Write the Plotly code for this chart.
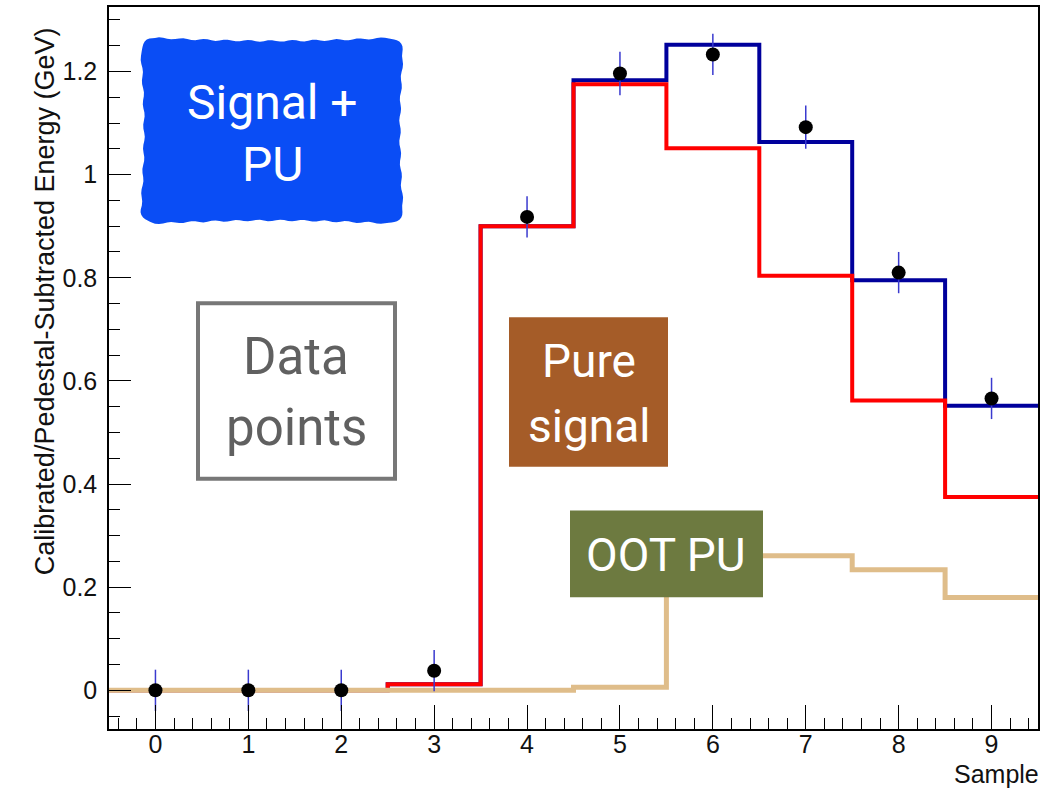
import math
import plotly.graph_objects as go

# ---- data -------------------------------------------------------------
samples = [0, 1, 2, 3, 4, 5, 6, 7, 8, 9]
bin_edges = [-0.5, 0.5, 1.5, 2.5, 3.5, 4.5, 5.5, 6.5, 7.5, 8.5, 9.5]

data_values = [0.0, 0.0, 0.0, 0.038, 0.918, 1.196, 1.233, 1.092, 0.810, 0.566]
data_errors = [0.04, 0.04, 0.04, 0.04, 0.04, 0.042, 0.04, 0.042, 0.04, 0.04]

signal_plus_pu = [0.0, 0.0, 0.0, 0.012, 0.900, 1.183, 1.252, 1.063, 0.795, 0.552]
pure_signal = [0.0, 0.0, 0.0, 0.012, 0.900, 1.175, 1.051, 0.804, 0.562, 0.375]
oot_pu = [0.0, 0.0, 0.0, 0.0, 0.0, 0.006, 0.200, 0.261, 0.234, 0.180]

x_ticks = [0, 1, 2, 3, 4, 5, 6, 7, 8, 9]
y_ticks = [0, 0.2, 0.4, 0.6, 0.8, 1.0, 1.2]
y_tick_text = ["0", "0.2", "0.4", "0.6", "0.8", "1", "1.2"]

# ---- geometry -----------------------------------------------------------
W, H = 1045, 794
ML, MR, MT, MB = 109, 7, 5, 65
X_RANGE = [-0.5, 9.5]
Y_RANGE = [-0.075, 1.325]
PW, PH = W - ML - MR, H - MT - MB


def to_data(px, py):
    """Convert page pixel coordinates to axis coordinates."""
    xd = X_RANGE[0] + (px - ML) / PW * (X_RANGE[1] - X_RANGE[0])
    yd = Y_RANGE[1] - (py - MT) / PH * (Y_RANGE[1] - Y_RANGE[0])
    return xd, yd


def rect_path(x0, y0, x1, y1):
    a = to_data(x0, y0)
    b = to_data(x1, y1)
    return dict(type="rect", xref="x", yref="y", x0=a[0], y0=b[1], x1=b[0], y1=a[1])


def wavy_box_path(x0, y0, x1, y1, r=14, amp=0.8, wl=22.0, bow=3.0):
    """Rounded box outline with a hand-drawn, slightly wobbly edge."""
    pts = []

    def add_line(ax, ay, bx, by, nx, ny):
        n = max(2, int(math.hypot(bx - ax, by - ay) / 4))
        for i in range(n):
            t = i / n
            pts.append((ax + (bx - ax) * t, ay + (by - ay) * t, nx, ny,
                        -bow * math.sin(math.pi * t)))

    def add_arc(cx, cy, a0, a1):
        n = 8
        for i in range(n):
            a = a0 + (a1 - a0) * i / n
            pts.append((cx + r * math.cos(a), cy + r * math.sin(a),
                        math.cos(a), math.sin(a), 0.0))

    add_line(x0 + r, y0, x1 - r, y0, 0, -1)
    add_arc(x1 - r, y0 + r, -math.pi / 2, 0)
    add_line(x1, y0 + r, x1, y1 - r, 1, 0)
    add_arc(x1 - r, y1 - r, 0, math.pi / 2)
    add_line(x1 - r, y1, x0 + r, y1, 0, 1)
    add_arc(x0 + r, y1 - r, math.pi / 2, math.pi)
    add_line(x0, y1 - r, x0, y0 + r, -1, 0)
    add_arc(x0 + r, y0 + r, math.pi, 1.5 * math.pi)

    s = 0.0
    out = []
    prev = None
    for (px, py, nx, ny, b) in pts:
        if prev is not None:
            s += math.hypot(px - prev[0], py - prev[1])
        prev = (px, py)
        off = amp * math.sin(2 * math.pi * s / wl) + b
        xd, yd = to_data(px + nx * off, py + ny * off)
        out.append(f"{xd:.5f},{yd:.5f}")
    return "M " + " L ".join(out) + " Z"


def steps(values):
    return bin_edges, values + [values[-1]]


fig = go.Figure()

# histograms drawn as steps
sx, sy = steps(signal_plus_pu)
fig.add_trace(go.Scatter(x=sx, y=sy, mode="lines", line_shape="hv",
                         line=dict(color="#00009c", width=4), hoverinfo="skip"))
sx, sy = steps(pure_signal)
fig.add_trace(go.Scatter(x=sx, y=sy, mode="lines", line_shape="hv",
                         line=dict(color="#ff0000", width=4), hoverinfo="skip"))
sx, sy = steps(oot_pu)
fig.add_trace(go.Scatter(x=sx, y=sy, mode="lines", line_shape="hv",
                         line=dict(color="#dfbd8a", width=5), hoverinfo="skip"))

# measured samples
fig.add_trace(go.Scatter(
    x=samples, y=data_values, mode="markers",
    marker=dict(color="black", size=14, symbol="circle"),
    error_y=dict(type="data", array=data_errors, color="#3a3acf",
                 thickness=1.5, width=0),
    cliponaxis=True,
))

shapes = []
# "Signal + PU" label box
shapes.append(dict(type="path", xref="x", yref="y",
                   path=wavy_box_path(141, 36, 403, 222),
                   fillcolor="#0a4df5", line=dict(width=0), layer="above"))
# "Data points" label box
dp = rect_path(198, 302, 395, 478)
dp.update(fillcolor="white", line=dict(color="#777777", width=4), layer="above")
shapes.append(dp)
# "Pure signal" label box
ps = rect_path(509, 316, 668, 466)
ps.update(fillcolor="#a55c28", line=dict(width=0), layer="above")
shapes.append(ps)
# "OOT PU" label box
oo = rect_path(570, 510, 763, 597)
oo.update(fillcolor="#6d7a40", line=dict(width=0), layer="above")
shapes.append(oo)

label_font = "Roboto, 'Open Sans', sans-serif"
annotations = []


def label(text, px, py, size, color):
    xd, yd = to_data(px, py)
    annotations.append(dict(x=xd, y=yd, xref="x", yref="y", text=text,
                            showarrow=False, xanchor="center", yanchor="middle",
                            font=dict(family=label_font, size=size, color=color)))


label("Signal +", 272, 101, 48, "white")
label("PU", 272, 163, 48, "white")
label("Data", 296, 355, 51, "#606060")
label("points", 296, 427, 51, "#606060")
label("Pure", 589, 360, 46, "white")
label("signal", 589, 425, 46, "white")
label("OOT PU", 666, 555, 46, "white")

# axis titles placed the way ROOT aligns them
annotations.append(dict(
    x=(45 - ML) / PW, y=(H - MB - 300) / PH, xref="paper", yref="paper",
    text="Calibrated/Pedestal-Subtracted Energy (GeV)", textangle=-90,
    showarrow=False, xanchor="center", yanchor="middle",
    font=dict(family="Liberation Sans, Arial, sans-serif", size=27, color="#111111")))
annotations.append(dict(
    x=(1041 - ML) / PW, y=(H - MB - 774) / PH, xref="paper", yref="paper",
    text="Sample", showarrow=False, xanchor="right", yanchor="middle",
    font=dict(family="Liberation Sans, Arial, sans-serif", size=25, color="#111111")))

axis_font = dict(family="Liberation Sans, Arial, sans-serif", size=25, color="#111111")

fig.update_layout(
    width=W, height=H,
    margin=dict(l=ML, r=MR, t=MT, b=MB, pad=0),
    paper_bgcolor="white", plot_bgcolor="white",
    showlegend=False,
    shapes=shapes, annotations=annotations,
    xaxis=dict(range=X_RANGE, tickmode="array", tickvals=x_ticks,
               ticktext=[str(t) for t in x_ticks],
               ticks="inside", ticklen=24, tickwidth=1, tickcolor="black",
               minor=dict(ticks="inside", dtick=0.2, tick0=0, ticklen=11,
                          tickwidth=1, tickcolor="black", showgrid=False),
               showgrid=False, zeroline=False,
               showline=True, linecolor="black", linewidth=1.5, mirror=True,
               tickfont=axis_font, ticklabelstandoff=-8),
    yaxis=dict(range=Y_RANGE, tickmode="array", tickvals=y_ticks,
               ticktext=y_tick_text,
               ticks="inside", ticklen=22, tickwidth=1, tickcolor="black",
               minor=dict(ticks="inside", dtick=0.05, tick0=0, ticklen=11,
                          tickwidth=1, tickcolor="black", showgrid=False),
               showgrid=False, zeroline=False,
               showline=True, linecolor="black", linewidth=1.5, mirror=True,
               tickfont=axis_font, ticklabelstandoff=5),
)

fig.write_html("out.html")
